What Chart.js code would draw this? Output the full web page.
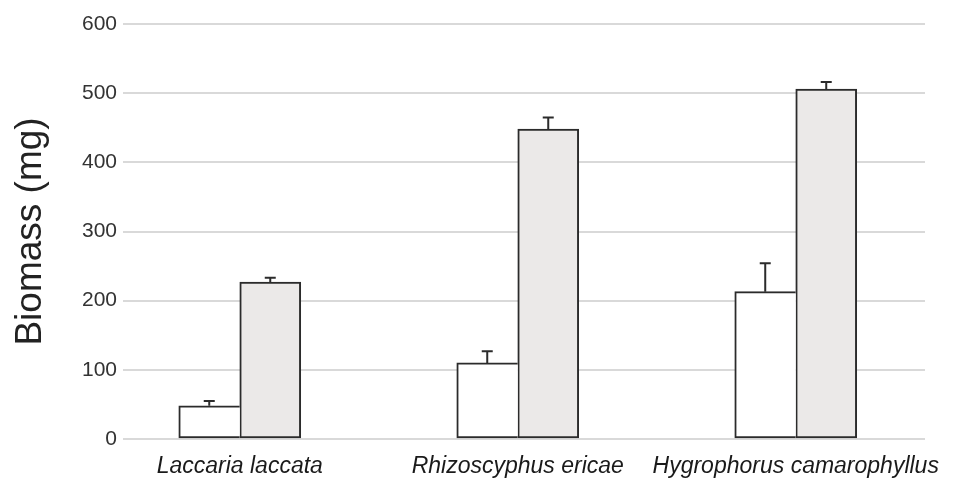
<!DOCTYPE html>
<html><head><meta charset="utf-8">
<script src="https://cdn.jsdelivr.net/npm/chart.js@4"></script>
<style>html,body{margin:0;padding:0;background:#fff}#wrap{width:977px;height:480px}</style>
</head><body><div id="wrap"><canvas id="c" width="977" height="480"></canvas></div>
<script>
const categories = ["Laccaria laccata", "Rhizoscyphus ericae", "Hygrophorus camarophyllus"];
const seriesA = [48, 110, 213];
const errorsA = [7, 17, 41];
const seriesB = [227, 448, 506];
const errorsB = [6, 17, 10];
const yTicks = [0, 100, 200, 300, 400, 500, 600];

const errorBarPlugin = {
  id: 'errbars',
  afterDatasetsDraw(chart) {
    const ctx = chart.ctx, y = chart.scales.y;
    chart.data.datasets.forEach((ds, di) => {
      const meta = chart.getDatasetMeta(di);
      meta.data.forEach((bar, i) => {
        const v = ds.data[i].y, e = ds.errors[i];
        const yTop = y.getPixelForValue(v + e), yBar = y.getPixelForValue(v);
        ctx.save();
        ctx.strokeStyle = '#2b2b2b'; ctx.lineWidth = 2;
        ctx.beginPath();
        ctx.moveTo(bar.x, yBar); ctx.lineTo(bar.x, yTop);
        ctx.moveTo(bar.x - 5.5, yTop); ctx.lineTo(bar.x + 5.5, yTop);
        ctx.stroke(); ctx.restore();
      });
    });
  }
};

new Chart(document.getElementById('c'), {
  type: 'bar',
  data: {
    datasets: [
      { data: seriesA.map((v, i) => ({x: i, y: v})), errors: errorsA, backgroundColor: '#ffffff', borderColor: '#2b2b2b',
        borderWidth: {top: 2, left: 2, bottom: 2, right: 0}, borderSkipped: false, barThickness: 61 },
      { data: seriesB.map((v, i) => ({x: i, y: v})), errors: errorsB, backgroundColor: '#ebe9e8', borderColor: '#2b2b2b',
        borderWidth: 2, borderSkipped: false, barThickness: 61 }
    ]
  },
  options: {
    responsive: false, animation: false,
    layout: { padding: { top: 24, right: 52, left: 0, bottom: 0 } },
    plugins: { legend: { display: false }, tooltip: { enabled: false } },
    scales: {
      x: {
        type: 'linear', min: -0.42, max: 2.465, offset: false,
        grid: { display: false, drawTicks: false }, border: { display: false },
        afterBuildTicks: a => { a.ticks = categories.map((c, i) => ({value: i})); },
        afterFit: s => { s.height = 41; },
        ticks: { autoSkip: false, maxRotation: 0, padding: 14, color: '#1a1a1a',
          font: { family: 'Liberation Sans, Arial, sans-serif', size: 23, style: 'italic' },
          callback: v => categories[v] }
      },
      y: {
        min: 0, max: 600,
        afterBuildTicks: a => { a.ticks = yTicks.map(v => ({value: v})); },
        afterFit: s => { s.width = 123; },
        grid: { color: '#d9d9d9', lineWidth: 2, tickLength: 0, drawTicks: false },
        border: { display: false },
        ticks: { padding: 6, color: '#333', font: { family: 'Liberation Sans, Arial, sans-serif', size: 21 } },
        title: { display: true, text: 'Biomass (mg)', color: '#222', padding: { top: 9, bottom: 0 },
          font: { family: 'Liberation Sans, Arial, sans-serif', size: 37 } }
      }
    }
  },
  plugins: [errorBarPlugin]
});
</script></body></html>
